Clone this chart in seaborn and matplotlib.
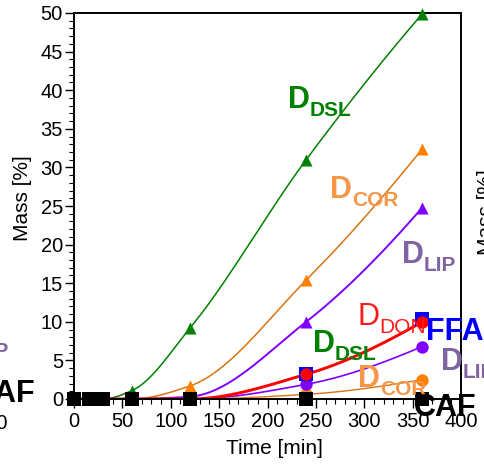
import numpy as np
import pandas as pd
import matplotlib
matplotlib.use("Agg")
import matplotlib.pyplot as plt
from matplotlib.ticker import MultipleLocator
import seaborn as sns

# ---------------- data ----------------
time_min = [0, 15, 30, 60, 120, 240, 360]
dsl_tri = [0, 0, 0, 1.1, 9.2, 31.0, 49.9]     # D_DSL (green triangles)
cor_tri = [0, 0, 0, 0, 1.7, 15.4, 32.4]       # D_COR (orange triangles)
lip_tri = [0, 0, 0, 0, 0.3, 10.0, 24.8]       # D_LIP (purple triangles)
don_circ = [0, 0, 0, 0, 0, 3.2, 10.0]         # D_DON (red circles)
ffa_sq = [0, 0, 0, 0, 0, 3.3, 10.4]           # FFA (blue squares)
lip_circ = [0, 0, 0, 0, 0, 1.9, 6.8]          # D_LIP (purple circles)
cor_circ = [0, 0, 0, 0, 0, 0.6, 2.5]          # D_COR (orange circles)
caf_sq = [0, 0, 0, 0, 0, 0, 0]                # CAF (black squares)
x_ticks = [0, 50, 100, 150, 200, 250, 300, 350, 400]
y_ticks = [0, 5, 10, 15, 20, 25, 30, 35, 40, 45, 50]

W, H = 485, 467

sns.set_theme(style="ticks")
plt.rcParams["font.family"] = ["Liberation Sans", "DejaVu Sans"]
plt.rcParams["axes.linewidth"] = 1.4


def pchip(x, y, xn):
    x = np.asarray(x, float)
    y = np.asarray(y, float)
    h = np.diff(x)
    d = np.diff(y) / h
    n = len(x)
    m = np.zeros(n)
    for k in range(1, n - 1):
        if d[k - 1] * d[k] > 0:
            w1 = 2 * h[k] + h[k - 1]
            w2 = h[k] + 2 * h[k - 1]
            m[k] = (w1 + w2) / (w1 / d[k - 1] + w2 / d[k])
    def end(h0, h1, d0, d1):
        s = ((2 * h0 + h1) * d0 - h0 * d1) / (h0 + h1)
        if np.sign(s) != np.sign(d0):
            s = 0.0
        elif np.sign(d0) != np.sign(d1) and abs(s) > abs(3 * d0):
            s = 3 * d0
        return s
    m[0] = end(h[0], h[1], d[0], d[1])
    m[-1] = end(h[-1], h[-2], d[-1], d[-2])
    idx = np.clip(np.searchsorted(x, xn) - 1, 0, n - 2)
    t = (xn - x[idx]) / h[idx]
    h00 = 2 * t**3 - 3 * t**2 + 1
    h10 = t**3 - 2 * t**2 + t
    h01 = -2 * t**3 + 3 * t**2
    h11 = t**3 - t**2
    return (h00 * y[idx] + h10 * h[idx] * m[idx] + h01 * y[idx + 1]
            + h11 * h[idx] * m[idx + 1])


fig = plt.figure(figsize=(W / 100, H / 100), dpi=100)
ax = fig.add_axes([74 / W, 1 - 399 / H, (461 - 74) / W, (399 - 13) / H])

tt = np.linspace(0, 360, 400)
curves = [
    (dsl_tri, "#008000", 1.1),
    (cor_tri, "#D9740F", 1.1),
    (lip_tri, "#7F00FF", 1.4),
    (lip_circ, "#7F00FF", 1.2),
    (cor_circ, "#D9740F", 1.0),
    (don_circ, "#FF0000", 2.1),
]
for vals, col, lw in curves:
    sns.lineplot(x=tt, y=pchip(time_min, vals, tt), ax=ax, color=col,
                 lw=lw, sort=False, estimator=None, zorder=2)

markers = [
    (dsl_tri, "^", "#008000", 75, 3),
    (cor_tri, "^", "#FF8000", 75, 3.1),
    (lip_tri, "^", "#8000FF", 75, 2.9),
    (lip_circ, "o", "#8000FF", 80, 3.2),
    (ffa_sq, "s", "#0000FF", 88, 3.3),
    (don_circ, "o", "#FF0000", 80, 3.4),
    (cor_circ, "o", "#FF8000", 80, 3.0),
    (caf_sq, "s", "#000000", 108, 5),
]
for vals, mk, col, s, z in markers:
    sns.scatterplot(x=time_min, y=vals, ax=ax, marker=mk, color=col, s=s,
                    linewidth=0, zorder=z, clip_on=False, legend=False)

ax.set_xlim(0, 400)
ax.set_ylim(0, 50)
ax.set_xticks(x_ticks)
ax.set_yticks(y_ticks)
ax.xaxis.set_minor_locator(MultipleLocator(10))
ax.yaxis.set_minor_locator(MultipleLocator(1))
ax.tick_params(which="major", direction="out", length=6.5, width=1.0,
               labelsize=14.5, color="black", labelcolor="black")
ax.tick_params(axis="x", which="major", pad=3)
ax.tick_params(axis="y", which="major", pad=1.5)
ax.tick_params(which="minor", direction="out", length=3.5, width=0.8,
               color="black")
for sp in ax.spines.values():
    sp.set_visible(True)
    sp.set_color("black")
    sp.set_linewidth(1.4)

ax.set_xlabel("Time [min]", fontsize=15, color="black")
ax.set_ylabel("Mass [%]", fontsize=15, color="black")
ax.xaxis.label.set_va("baseline")
ax.xaxis.set_label_coords((274 - 74) / 387, (399 - 454) / 386)
ax.yaxis.set_label_coords((32 - 74) / 387, (399 - 198) / 386)


def ftext(x, y, s, **kw):
    return fig.text(x / W, 1 - y / H, s, **kw)


def dlabel(x, y, sub, color, weight="bold"):
    ftext(x, y, "D", color=color, fontsize=22, fontweight=weight,
          ha="left", va="baseline")
    ftext(x + 22, y + 8, sub, color=color, fontsize=15, fontweight=weight,
          ha="left", va="baseline")


GREEN = "#008000"
LORANGE = "#F79646"
PURP = "#8064A2"
dlabel(288, 108, "DSL", GREEN)
dlabel(330, 198, "COR", LORANGE)
dlabel(402, 263, "LIP", PURP)
dlabel(357, 325, "DON", "#FF1A1A", weight="normal")
dlabel(313, 352, "DSL", GREEN)
dlabel(358, 387, "COR", LORANGE)
dlabel(441, 370, "LIP", PURP)
ftext(426, 340, "FFA", color="#0000FF", fontsize=22, fontweight="bold",
      ha="left", va="baseline")
ftext(414, 416, "CAF", color="black", fontsize=22, fontweight="bold",
      ha="left", va="baseline")

# pieces of the neighbouring panels that are cut by the frame
ftext(9, 357, "LIP", color=PURP, fontsize=15, fontweight="bold",
      ha="right", va="baseline")
ftext(35, 402, "CAF", color="black", fontsize=22, fontweight="bold",
      ha="right", va="baseline")
ftext(8, 429, "400", color="black", fontsize=14.5, ha="right", va="baseline")
ftext(477, 212, "Mass [%]", color="black", fontsize=15, rotation=90,
      ha="left", va="center")

fig.savefig("out.png", dpi=100, facecolor="white")
